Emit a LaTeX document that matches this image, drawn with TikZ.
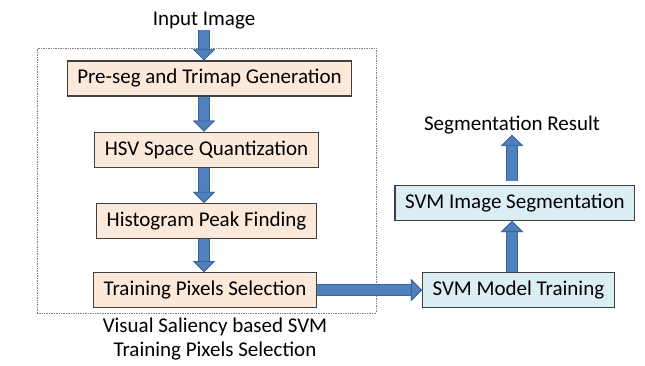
\documentclass[tikz,border=0pt]{standalone}
\usepackage{fontspec}
\setmainfont{Carlito}
\usetikzlibrary{positioning,arrows.meta}

\definecolor{peach}{HTML}{FDE9D9}
\definecolor{paleblue}{HTML}{DBEEF4}
\definecolor{arrowfill}{HTML}{4F81BD}
\definecolor{arrowedge}{HTML}{3A64A0}
\definecolor{boxedge}{HTML}{404040}

\begin{document}
\begin{tikzpicture}[x=1pt,y=1pt,
  every node/.style={font=\fontsize{21}{24}\selectfont},
  stage/.style={draw=boxedge, line width=1.2pt, fill=peach, inner xsep=10pt, minimum height=35pt},
  svmstage/.style={stage, fill=paleblue},
  label/.style={inner sep=1pt},
  frame/.style={draw=gray, densely dotted, line width=0.7pt},
  blk/.style={draw=arrowfill, line width=10.5pt,
    -{Triangle[width=22pt,length=11pt,line width=0.8pt,color=arrowedge,fill=arrowfill]},
    preaction={draw=arrowedge, line width=12pt}},
  node distance=35pt]
\useasboundingbox (0,0) rectangle (645,-365);

% dotted frame around the left part
\node[frame, minimum width=339pt, minimum height=265pt] (box) at (206.5,-180.5) {};

\node[label, anchor=base] (input) at (204,-25) {Input Image};
\node[stage] (pre) at (209.5,-78.5) {Pre-seg and Trimap Generation};
\node[stage] (hsv) [below=35pt of pre, xshift=-3pt] {HSV Space Quantization};
\node[stage] (peak) [below=of hsv] {Histogram Peak Finding};
\node[stage] (sel) [below=33pt of peak, xshift=-1.5pt] {Training Pixels Selection};

\node[svmstage] (model) [right=105pt of sel] {SVM Model Training};
\node[svmstage] (seg) [above=51pt of model, xshift=-3.5pt] {SVM Image Segmentation};
\node[label, anchor=base] (result) at (512,-130) {Segmentation Result};

\node[label, align=center] (caption) at (215,-339.5) {Visual Saliency based SVM\\Training Pixels Selection};

% block arrows
\draw[blk] (input) -- (pre.north -| input);
\draw[blk] (pre.south -| input) -- (hsv.north -| input);
\draw[blk] (hsv.south -| input) -- (peak.north -| input);
\draw[blk] (peak.south -| input) -- (sel.north -| input);
\draw[blk] (sel) -- (model);
\draw[blk] (model.north -| result) -- (seg.south -| result);
\draw[blk, shorten <=4pt] (seg.north -| result) -- (result);
\end{tikzpicture}
\end{document}
